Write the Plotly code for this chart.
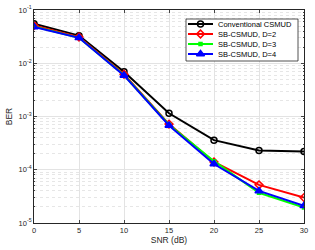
import plotly.graph_objects as go

snr = [0, 5, 10, 15, 20, 25, 30]
conv = [0.055, 0.033, 0.0069, 0.00115, 0.00036, 0.00023, 0.00022]
d2 = [0.051, 0.031, 0.0062, 0.00072, 0.00014, 0.000052, 0.000030]
d3 = [0.049, 0.030, 0.0060, 0.00070, 0.000145, 0.000037, 0.0000195]
d4 = [0.048, 0.030, 0.0059, 0.00068, 0.000128, 0.000040, 0.000021]
names = ["Conventional CSMUD", "SB-CSMUD, D=2", "SB-CSMUD, D=3", "SB-CSMUD, D=4"]
y_ticks = [1e-5, 1e-4, 1e-3, 1e-2, 1e-1]
y_tick_text = ["10<sup>-5</sup>", "10<sup>-4</sup>", "10<sup>-3</sup>", "10<sup>-2</sup>", "10<sup>-1</sup>"]
x_ticks = [0, 5, 10, 15, 20, 25, 30]

L, R, T, B = 34, 11, 10, 27
W, H = 315, 250
PW, PH = W - L - R, H - T - B

def fx(px):
    return (px - L) / PW

def fy(py):
    return (H - B - py) / PH

fig = go.Figure()
styles = [
    dict(color="black", symbol="circle-open", size=6),
    dict(color="red", symbol="diamond-open", size=6),
    dict(color="#00ff00", symbol="square", size=3),
    dict(color="blue", symbol="triangle-up", size=7),
]
for name, ys, st in zip(names, [conv, d2, d3, d4], styles):
    fig.add_trace(go.Scatter(
        x=snr, y=ys, name=name, mode="lines+markers", showlegend=False,
        line=dict(color=st["color"], width=2),
        marker=dict(color=st["color"], symbol=st["symbol"], size=st["size"],
                    line=dict(color=st["color"], width=1.5)),
    ))

# custom compact legend on an invisible overlay axis (0..1 fraction of plot area)
bx0, bx1, by0, by1 = fx(186), fx(298), fy(61), fy(19)
fig.add_trace(go.Scatter(
    x=[bx0, bx1, bx1, bx0, bx0], y=[by0, by0, by1, by1, by0],
    xaxis="x2", yaxis="y2", mode="lines", fill="toself", fillcolor="white",
    line=dict(color="#262626", width=0.8), showlegend=False, hoverinfo="skip",
))
row_px = [24, 34, 44, 54]
for name, st, rp in zip(names, styles, row_px):
    yy = fy(rp)
    fig.add_trace(go.Scatter(
        x=[fx(188), fx(213)], y=[yy, yy], xaxis="x2", yaxis="y2",
        mode="lines", line=dict(color=st["color"], width=2),
        showlegend=False, hoverinfo="skip",
    ))
    fig.add_trace(go.Scatter(
        x=[fx(200.5)], y=[yy], xaxis="x2", yaxis="y2", mode="markers",
        marker=dict(color=st["color"], symbol=st["symbol"], size=st["size"],
                    line=dict(color=st["color"], width=1.5)),
        showlegend=False, hoverinfo="skip",
    ))
    fig.add_annotation(
        x=fx(215.5), y=yy, xref="x2", yref="y2", text=name, showarrow=False,
        xanchor="left", yanchor="middle", font=dict(size=7.5, color="black"),
    )

minor_vals = [m * 10.0**e for e in range(-5, -1) for m in range(2, 10)]

fig.update_layout(
    width=W, height=H,
    margin=dict(l=L, r=R, t=T, b=B),
    paper_bgcolor="white", plot_bgcolor="white",
    font=dict(family="Liberation Sans, Arial", size=7.5, color="#262626"),
    showlegend=False,
    xaxis=dict(
        range=[0, 30], tickvals=x_ticks, ticks="inside", ticklen=3,
        showline=True, linecolor="#262626", linewidth=0.8, mirror="ticks",
        showgrid=True, gridcolor="#e3e3e3", gridwidth=0.6, zeroline=False,
        title=dict(text="SNR (dB)", standoff=3, font=dict(size=8.5)),
        tickfont=dict(size=7.5), automargin=False,
    ),
    yaxis=dict(
        type="log", range=[-5, -1], tickvals=y_ticks, ticktext=y_tick_text,
        ticks="inside", ticklen=3,
        showline=True, linecolor="#262626", linewidth=0.8, mirror="ticks",
        showgrid=True, gridcolor="#e3e3e3", gridwidth=0.6, zeroline=False,
        minor=dict(tickvals=minor_vals, showgrid=True, gridcolor="#e6e6e6",
                   griddash="dot", gridwidth=0.6, ticks="inside", ticklen=1.5),
        title=dict(text="BER", standoff=4, font=dict(size=8.5)),
        tickfont=dict(size=7.5), automargin=False,
    ),
    xaxis2=dict(overlaying="x", range=[0, 1], visible=False, anchor="y2"),
    yaxis2=dict(overlaying="y", range=[0, 1], visible=False, anchor="x2"),
)
fig.write_html("out.html", config={"displayModeBar": False},
               post_script="document.body.style.margin='0';document.body.style.padding='0';")
